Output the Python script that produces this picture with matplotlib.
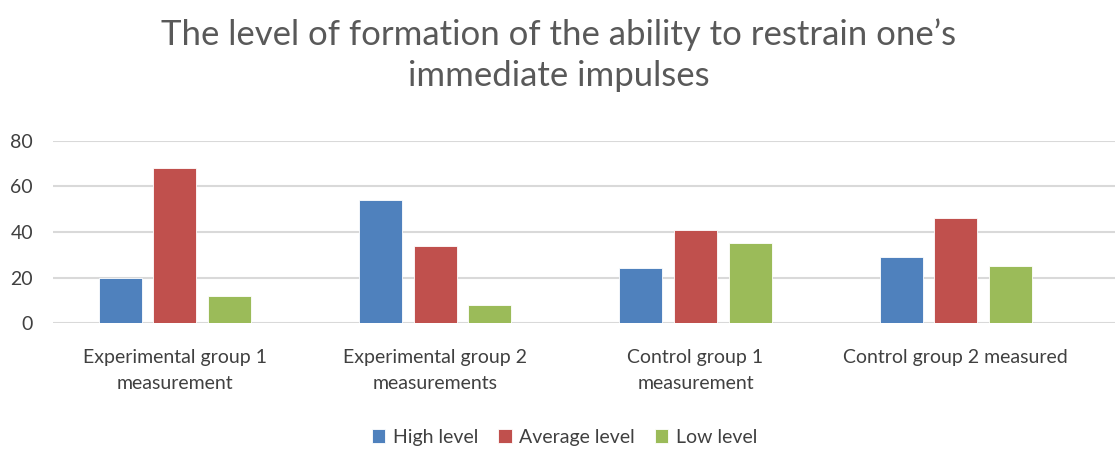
import matplotlib.pyplot as plt
import numpy as np

plt.rcParams['font.family'] = ['Lato', 'DejaVu Sans']

# data
categories = ['Experimental group 1\nmeasurement', 'Experimental group 2\nmeasurements',
              'Control group 1\nmeasurement', 'Control group 2 measured']
high = [20, 54, 24, 29]
average = [68, 34, 41, 46]
low = [12, 8, 35, 25]
series_names = ['High level', 'Average level', 'Low level']
colors = ['#4f81bd', '#c0504d', '#9bbb59']

fig = plt.figure(figsize=(11.18, 4.5), dpi=100)
ax = fig.add_axes([0.047, 0.282, 0.95, 0.405])

x = np.arange(len(categories))
w = 0.165
step = 0.21
for i, (vals, name, c) in enumerate(zip([high, average, low], series_names, colors)):
    ax.bar(x + (i - 1) * step, vals, w, color=c, label=name, edgecolor='white', linewidth=0.6, zorder=3)

ax.set_ylim(0, 80)
ax.set_yticks([0, 20, 40, 60, 80])
ax.set_xlim(-0.47, 3.61)
ax.set_xticks(x)
ax.set_xticklabels(categories, fontsize=14, color='#404040', linespacing=1.6)
ax.tick_params(axis='y', labelsize=14, colors='#404040', length=0, pad=14)
ax.tick_params(axis='x', length=0, pad=19)
ax.grid(axis='y', color='#d9d9d9', linewidth=1.5, zorder=0)
for s in ax.spines.values():
    s.set_visible(False)

fig.suptitle("The level of formation of the ability to restrain one\u2019s\nimmediate impulses",
             fontsize=25, color='#595959', y=0.96, linespacing=1.35)

fig.legend(loc='center', bbox_to_anchor=(0.505, 0.028), ncol=3, frameon=False,
           fontsize=14, handlelength=0.7, handleheight=0.7, handletextpad=0.4,
           columnspacing=1.0, labelcolor='#404040')

plt.savefig('out.png')
